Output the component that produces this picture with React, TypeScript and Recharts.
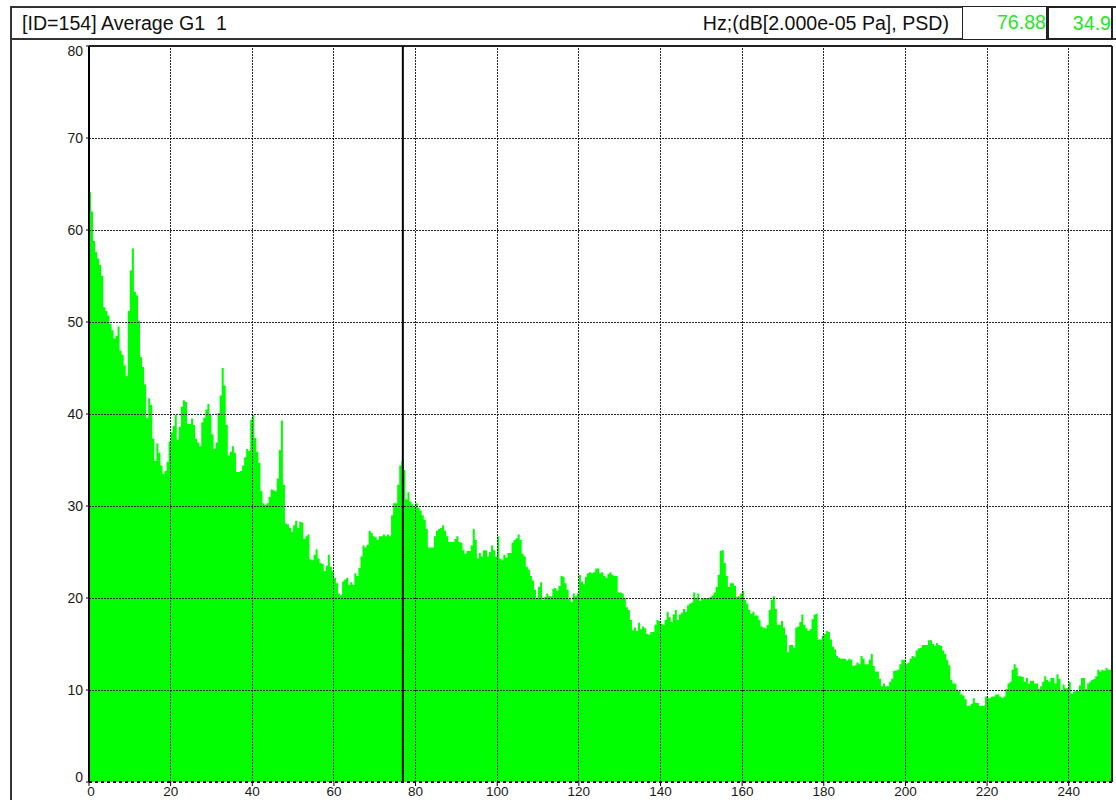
import { Area, AreaChart, ReferenceLine, XAxis, YAxis } from "recharts";

// PSD levels in dB, one value per 0.5 Hz line
const psd0 = [
  64.1, 62, 58.8, 57.6, 56.9, 56.2, 55, 51.6, 51.2, 50.7,
  49.8, 49.1, 48.2, 48.5, 49.5, 46.9, 46.4, 45.3, 44.1, 51.2,
  55.6, 58, 53.3, 52.9, 50.1, 46.2, 45.1, 43.2, 39.6, 41.7,
  41, 37.3, 34.9, 36.8, 35.8, 34.4, 33.5, 33.8, 34.8, 37,
  38, 38.7, 39.9, 37.2, 38.6, 40.8, 41.5, 41.3, 38.9, 38.9,
  39.5, 38.8, 37.3, 36.9, 36.5, 39.1, 39.6, 40.5, 41.1, 39.9,
  37.8, 36.2, 36.9, 40.1, 42, 45, 43.1, 38.8, 35.5, 35.9,
  36.5, 35.8, 33.7, 33.7, 33.8, 34.4, 35.3, 36.2, 36, 39.4,
  39.9, 37.4, 35.9, 34.7, 31.6, 30.3, 30.1, 30.3, 31, 31.8,
  31.7, 31.6, 33, 36.1, 39.3, 32.3, 28.1, 28, 27.6, 27.2,
  27.9, 28.4, 27.6, 28.3, 28.2, 26.4, 26.7, 26.9, 24.2, 24.1,
  24.7, 25.3, 24.3, 23.8, 23.7, 22.9, 23.5, 24.7, 23.4, 22.9,
  22.2, 21.6, 20.5, 20.3, 21.8, 22,
];
const psd1 = [
  22.2, 21.4, 21.7, 21.4, 22.7, 22.4, 23.3, 24.5, 25.7, 25.5,
  25.8, 27.3, 27.1, 26.7, 26.6, 26.3, 26.7, 26.7, 26.9, 26.7,
  26.9, 26.7, 29, 30.3, 30.3, 32.3, 34.4, 34.9, 33.9, 30.7,
  31.5, 30.5, 30.2, 29.9, 30.3, 29.8, 29.5, 29, 28.5, 27.5,
  25.5, 25.5, 25.5, 26.7, 27.3, 27.5, 27.6, 27.9, 27.3, 26.7,
  26.1, 26.1, 26.1, 26.4, 26.7, 26.1, 26, 25.2, 24.8, 25.1,
  25.1, 25.7, 27.5, 26.3, 24.3, 24.9, 24.5, 25.2, 25.2, 24.5,
  25, 25.7, 25.2, 24.5, 26.7, 24.3, 24.1, 24.7, 24.4, 24.9,
  24.9, 26, 26.3, 26.5, 26.9, 26.3, 24.8, 24.5, 23.4, 23.1,
  22.4, 21.9, 20.9, 20, 21.2, 21.7, 19.8, 20.1, 20.5, 20.2,
  20.2, 21, 21.1, 20.8, 21.3, 22.4, 22.3, 21.6, 20.9, 19.9,
  19.6, 20.5, 20.2, 20.5, 22.5, 21.8, 21.5, 22.3, 22.7, 22.8,
  22.7, 22.8, 23.2, 23.2, 22.7, 22.8,
];
const psd2 = [
  22.4, 22.2, 22.6, 22.8, 22.5, 22.4, 22.4, 20.6, 20.6, 20.5,
  20, 19, 18.7, 17.6, 16.5, 16.8, 16.4, 17.3, 16.6, 16.9,
  16.7, 16.1, 16, 16.3, 16.3, 17.1, 17.6, 17.5, 17.2, 17.1,
  17.6, 18.5, 17.9, 17.4, 18.2, 18.7, 17.6, 18.2, 18.4, 18.8,
  18.5, 19.2, 19.4, 19.5, 20.6, 20, 20.5, 19.7, 19.9, 20,
  20, 20, 20.1, 20.3, 20.6, 21.2, 22.5, 25.1, 25.2, 23.8,
  22.4, 21.2, 21.6, 21.6, 21.3, 20.1, 20.2, 20.5, 20.8, 19.8,
  19.4, 18.7, 18.3, 18.5, 18.1, 18.1, 17.6, 16.9, 16.8, 16.7,
  17.1, 18.7, 19.8, 20.2, 18.8, 17.1, 17.1, 17.5, 16.8, 16,
  14.1, 14.9, 14.9, 14.6, 16.8, 16.9, 17.4, 18.2, 17.1, 16.7,
  16.4, 16.6, 17.7, 18.2, 18.3, 15.5, 15.5, 15.9, 16.1, 16.4,
  16.3, 15.5, 14.7, 14.4, 13.7, 13.5, 13.4, 13.4, 13.4, 13.2,
  13.4, 13.3, 12.6, 12.7, 13,
];
const psd3 = [
  12.8, 13.7, 13.4, 12.8, 12.8, 13.3, 13.9, 12.6, 12, 12,
  11.2, 10.4, 10.7, 10.4, 10.4, 10.9, 11.2, 12.1, 12.1, 12.2,
  12.8, 13.3, 13.3, 12.8, 13, 13.4, 13.7, 13.6, 14.3, 14.5,
  14.6, 14.9, 14.9, 14.9, 15.4, 15.4, 15, 14.8, 15.1, 14.9,
  14.8, 14.3, 13.9, 13.3, 12.7, 11.1, 10.7, 10.7, 10, 9.9,
  9.5, 9.4, 9, 8.3, 8.3, 8.5, 9.1, 8.6, 8.6, 8.3,
  8.3, 8.3, 9.3, 9.1, 9.1, 9.3, 9.3, 9.5, 9.5, 9.3,
  9.1, 9.3, 10.1, 10.7, 10.9, 12.2, 12.8, 12.4, 11.5, 11.5,
  11.4, 10.9, 11.3, 10.7, 11, 11, 10.7, 10.7, 10.1, 10.4,
  10.9, 11.5, 11.1, 10.9, 11.3, 11.3, 10.7, 11.7, 11.2, 9.9,
  10.6, 10.2, 10.2, 10.9, 9.6, 9.8, 9.9, 9.9, 10.5, 11.3,
  11.3, 10.1, 10.7, 10.9, 11.1, 11.2, 11.5, 12.2, 12, 12.2,
  12.1, 12.4, 12.2, 12.2, 12.2,
];

const xTicks = [0, 20, 40, 60, 80, 100, 120, 140, 160, 180, 200, 220, 240];
const yTicks = [0, 10, 20, 30, 40, 50, 60, 70, 80];
const xGrid = [20, 40, 60, 80, 100, 120, 140, 160, 180, 200, 220, 240];
const yGrid = [10, 20, 30, 40, 50, 60, 70];

const title = "[ID=154] Average G1  1";
const unitsLabel = "Hz;(dB[2.000e-05 Pa], PSD)";
const cursorHz = 76.88;
const cursorDb = 34.9;

const DF = 0.5; // line spacing, Hz
const FMAX = 250.6;
const FONT = 'Arial, "Liberation Sans", Helvetica, sans-serif';
const GREEN = "#00ff00";
const W = 1116;
const H = 800;
const MARGIN = { top: 46, right: 4, left: 9, bottom: 0 };

const spectrum = [...psd0, ...psd1, ...psd2, ...psd3];
const rows = spectrum.map((db, i) => ({ hz: i * DF, db }));
// right edge of the last line so the step reaches the frame
rows.push({ hz: spectrum.length * DF, db: spectrum[spectrum.length - 1] });

function XTick({ x, payload }: any) {
  const v = payload.value;
  return (
    <text x={x + (v === 0 ? 2 : 0)} y={796} textAnchor="middle" fontSize={13.5} fontFamily={FONT} fill="#1a1a1a">
      {v}
    </text>
  );
}

function YTick({ y, payload }: any) {
  const v = payload.value;
  const dy = v === 80 ? 5 : v === 0 ? -5 : 0;
  return (
    <text x={83} y={y + dy} textAnchor="end" dominantBaseline="central" fontSize={14} fontFamily={FONT} fill="#1a1a1a">
      {v}
    </text>
  );
}

const line = (style: any) => <div style={{ position: "absolute", background: "#333", ...style }} />;

const headText = { position: "absolute", top: 8, height: 30, lineHeight: "30px", fontSize: 19.6, color: "#111", whiteSpace: "pre" } as const;
const valueBox = { position: "absolute", top: 6, height: 34, boxSizing: "border-box", textAlign: "right", lineHeight: "30px", fontSize: 19.6, color: "#1ee81e", background: "#fff" } as const;
const gridStyle = { stroke: "#000", strokeOpacity: 0.85, strokeDasharray: "2 1", shapeRendering: "crispEdges" } as const;

export default function App() {
  return (
    <div style={{ position: "absolute", left: 0, top: 0, width: W, height: H, background: "#fff", overflow: "hidden", fontFamily: FONT }}>
      <AreaChart width={W} height={H} data={rows} margin={MARGIN}>
        <XAxis
          dataKey="hz"
          type="number"
          domain={[0, FMAX]}
          ticks={xTicks}
          interval={0}
          allowDataOverflow
          height={18}
          tick={XTick}
          tickSize={4}
          tickLine={{ stroke: "#000" }}
          axisLine={{ stroke: "#000", strokeDasharray: "3 3", strokeWidth: 2 }}
        />
        <YAxis
          domain={[0, 80]}
          ticks={yTicks}
          interval={0}
          width={80}
          tick={YTick}
          tickSize={3}
          tickLine={{ stroke: "#000" }}
          axisLine={{ stroke: "#000", strokeWidth: 2 }}
        />
        <Area type="stepAfter" dataKey="db" stroke="none" fill={GREEN} fillOpacity={1} isAnimationActive={false} />
      </AreaChart>

      {/* same plot box laid over the spectrum so the dotted grid and cursor sit on top of the fill */}
      <div style={{ position: "absolute", left: 0, top: 0, pointerEvents: "none", zIndex: 2 }}>
        <AreaChart width={W} height={H} data={rows} margin={MARGIN}>
          <XAxis dataKey="hz" type="number" domain={[0, FMAX]} allowDataOverflow height={18} tick={false} tickLine={false} axisLine={false} />
          <YAxis domain={[0, 80]} width={80} tick={false} tickLine={false} axisLine={false} />
          <Area type="stepAfter" dataKey="db" stroke="none" fill="none" fillOpacity={0} isAnimationActive={false} />
          {yGrid.map((v) => (
            <ReferenceLine key={`y${v}`} y={v} {...gridStyle} />
          ))}
          {xGrid.map((v) => (
            <ReferenceLine key={`x${v}`} x={v} {...gridStyle} />
          ))}
          <ReferenceLine y={80} stroke="#222" strokeWidth={2} />
          <ReferenceLine x={FMAX} stroke="#222" strokeWidth={2} />
          <ReferenceLine x={cursorHz} stroke="#000" strokeWidth={2} />
        </AreaChart>
      </div>

      {/* header strip */}
      {line({ left: 10, top: 6, width: 1106, height: 2 })}
      {line({ left: 10, top: 38, width: 1106, height: 2 })}
      {line({ left: 10, top: 6, width: 2, height: 794 })}
      <div style={{ ...headText, left: 22 }}>{title}</div>
      <div style={{ ...headText, right: W - 949 }}>{unitsLabel}</div>
      <div style={{ ...valueBox, left: 962, width: 86, border: "1.5px solid #222", borderRight: "2px solid #222" }}>
        {cursorHz.toFixed(2)}
      </div>
      <div style={{ ...valueBox, left: 1047, width: 66, border: "2px solid #222" }}>
        {cursorDb.toFixed(1)}
      </div>
    </div>
  );
}
